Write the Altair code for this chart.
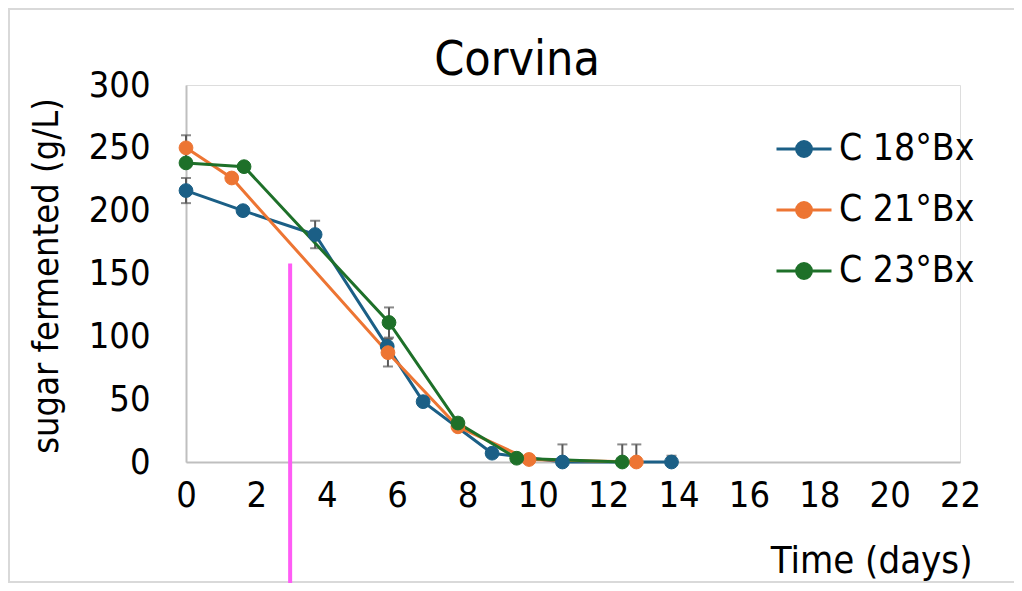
import altair as alt
import pandas as pd

FONT = "DejaVu Sans Condensed, DejaVu Sans"

series_names = ["C 18°Bx", "C 21°Bx", "C 23°Bx"]
series_colors = ["#1b5f86", "#ed7533", "#1e7029"]

c18_day = [0, 1.62, 3.67, 5.72, 6.74, 8.7, 10.7, 13.8]
c18_sugar = [216, 200, 181, 92, 48, 7, 0, 0]
c18_err = [10, 2, 11, 6, 3, 2, 14, 5]

c21_day = [0, 1.3, 5.74, 7.73, 9.75, 12.8]
c21_sugar = [250, 226, 87, 28, 2, 0]
c21_err = [10, 2, 11, 2, 1, 14]

c23_day = [0, 1.65, 5.77, 7.73, 9.4, 12.4]
c23_sugar = [238, 235, 111, 31, 3, 0]
c23_err = [2, 3, 12, 4, 2, 14]

x_ticks = list(range(0, 23, 2))
y_ticks = [0, 50, 100, 150, 200, 250, 300]

marker_day = [2.96]
marker_top = [158]

rows = []
for name, days, vals, errs in [
    (series_names[0], c18_day, c18_sugar, c18_err),
    (series_names[1], c21_day, c21_sugar, c21_err),
    (series_names[2], c23_day, c23_sugar, c23_err),
]:
    for i, (d, v, e) in enumerate(zip(days, vals, errs)):
        rows.append({"series": name, "order": i, "day": d, "sugar": v,
                     "lo": max(0, v - e), "hi": v + e})
df = pd.DataFrame(rows)
marker_df = pd.DataFrame({"day": marker_day, "top": marker_top})

W, H = 774, 377

xscale = alt.Scale(domain=[0, 22], nice=False, zero=False)
yscale = alt.Scale(domain=[0, 300], nice=False)
cscale = alt.Scale(domain=series_names, range=series_colors)

sym = "M-1,0L1,0M0.27,0A0.27,0.27,0,1,1,-0.27,0A0.27,0.27,0,1,1,0.27,0Z"
legend = alt.Legend(
    title=None, orient="none", legendX=589, legendY=35, padding=0,
    symbolType=sym, symbolSize=3025, symbolStrokeWidth=3,
    labelFont=FONT, labelFontSize=37, labelColor="#000000",
    labelOffset=6, rowPadding=14, labelLimit=300,
)

xaxis = alt.Axis(
    values=x_ticks, title="Time (days)", grid=False, ticks=False,
    domainColor="#bfbfbf", domainWidth=2, labelFont=FONT, labelFontSize=36,
    labelColor="#000000", labelPadding=16, labelBaseline="top",
    titleFont=FONT, titleFontSize=38, titleFontWeight="normal", titleColor="#000000",
    titleX=786, titleY=110, titleAlign="right", titleBaseline="alphabetic",
    labelFlush=False,
)
yaxis = alt.Axis(
    values=y_ticks, title="sugar fermented (g/L)", grid=False, ticks=False,
    domainColor="#bfbfbf", domainWidth=2, labelFont=FONT, labelFontSize=36,
    labelColor="#000000", labelPadding=36, labelBaseline="middle",
    titleFont=FONT, titleFontSize=36, titleFontWeight="normal", titleColor="#000000",
    titleX=-140, titleY=H / 2 + 2, titleAngle=-90, titleAlign="center",
    titleBaseline="middle", labelFlush=False,
)

base = alt.Chart(df)
X = alt.X("day:Q", scale=xscale, axis=xaxis)
Y = alt.Y("sugar:Q", scale=yscale, axis=yaxis)

err_rule = base.mark_rule(color="#595959", strokeWidth=2).encode(
    x=alt.X("day:Q", scale=xscale), y=alt.Y("lo:Q", scale=yscale), y2="hi:Q"
)
err_top = base.mark_tick(color="#595959", thickness=2, size=10, orient="horizontal").encode(
    x=alt.X("day:Q", scale=xscale), y=alt.Y("hi:Q", scale=yscale)
)
err_bot = base.transform_filter("datum.lo > 0.5").mark_tick(
    color="#595959", thickness=2, size=10, orient="horizontal"
).encode(x=alt.X("day:Q", scale=xscale), y=alt.Y("lo:Q", scale=yscale))

lines = base.mark_line(strokeWidth=3).encode(
    x=X, y=Y,
    stroke=alt.Stroke("series:N", scale=cscale, legend=legend),
    detail="series:N",
    order="order:Q",
)
points = base.mark_point(filled=True, size=190, opacity=1, strokeWidth=1).encode(
    x=X, y=Y,
    fill=alt.Fill("series:N", scale=cscale, legend=legend),
    stroke=alt.Stroke("series:N", scale=cscale, legend=legend),
)

pink = alt.Chart(marker_df).mark_rule(color="#ff5cf5", strokeWidth=4).encode(
    x=alt.X("day:Q", scale=xscale), y=alt.Y("top:Q", scale=yscale), y2=alt.value(498)
)

border = alt.Chart(pd.DataFrame({"k": [0]})).mark_rect(
    fill=None, stroke="#d9d9d9", strokeWidth=2
).encode(x=alt.value(-177), x2=alt.value(860), y=alt.value(-76), y2=alt.value(497))

# title offset is measured from the layer bounds (which include the border frame)
chart = alt.layer(border, err_rule, err_top, err_bot, lines, points, pink).properties(
    width=W, height=H,
    title=alt.TitleParams("Corvina", font=FONT, fontSize=48, fontWeight="normal",
                          color="#000000", anchor="middle", frame="group", dx=-56,
                          offset=-115, baseline="alphabetic"),
    autosize=alt.AutoSizeParams(type="none"),
    padding={"left": 178, "top": 77, "right": 54, "bottom": 121},
).configure_view(stroke=None).configure(background="#ffffff")

chart.save("out.html", embed_options={"renderer": "svg", "actions": False})
